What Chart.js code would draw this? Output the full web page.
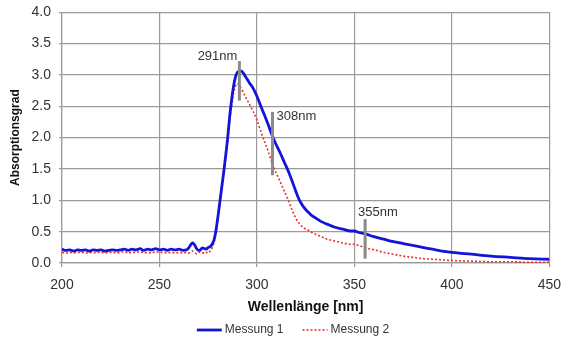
<!DOCTYPE html>
<html>
<head>
<meta charset="utf-8">
<script src="https://cdn.jsdelivr.net/npm/chart.js@4.4.1/dist/chart.umd.min.js"></script>
<style>
html,body{margin:0;padding:0;background:#fff;}
#wrap{width:562px;height:340px;}
</style>
</head>
<body>
<div id="wrap"><canvas id="c" width="562" height="340"></canvas></div>
<script>
const wavelengths = [
  200,202,204,206,208,210,212,214,216,218,220,222,224,226,228,230,232,234,236,238,240,242,244,246,248,250,252,254,256,258,260,262,264,
  265,266,267,268,269,270,271,272,273,274,275,276,277,278,279,280,281,282,283,284,285,286,287,288,289,290,291,292,293,294,295,296,
  298,300,302,304,306,308,310,312,314,316,318,320,322,324,326,328,330,
  333,336,340,344,348,350,352,356,360,365,370,375,380,385,390,395,400,410,420,430,440,450
];
const messung1 = [
  0.22,0.20,0.21,0.19,0.21,0.20,0.21,0.19,0.21,0.20,0.21,0.19,0.20,0.21,0.20,0.21,0.22,0.20,0.22,0.21,0.23,0.20,0.22,0.21,0.23,0.21,0.22,0.20,0.22,0.21,0.22,0.20,0.21,
  0.24,0.29,0.32,0.29,0.23,0.20,0.21,0.24,0.23,0.22,0.25,0.26,0.30,0.37,0.52,0.74,0.98,1.22,1.46,1.72,2.00,2.33,2.60,2.82,2.97,3.04,3.06,3.06,3.03,2.98,2.93,2.88,
  2.79,2.66,2.50,2.35,2.19,2.02,1.88,1.75,1.61,1.47,1.31,1.14,0.99,0.89,0.82,0.76,0.72,
  0.66,0.62,0.57,0.54,0.51,0.51,0.49,0.46,0.42,0.38,0.34,0.31,0.28,0.25,0.22,0.19,0.17,0.14,0.11,0.09,0.07,0.06
];
const messung2 = [
  0.17,0.16,0.17,0.16,0.17,0.17,0.16,0.17,0.16,0.17,0.17,0.16,0.17,0.17,0.16,0.17,0.18,0.16,0.17,0.17,0.18,0.16,0.17,0.16,0.18,0.17,0.17,0.16,0.17,0.16,0.17,0.16,0.17,
  0.16,0.18,0.19,0.17,0.15,0.16,0.18,0.17,0.15,0.17,0.16,0.19,0.24,0.33,0.50,0.72,0.96,1.20,1.44,1.68,1.95,2.25,2.50,2.70,2.82,2.86,2.83,2.78,2.72,2.66,2.60,2.54,
  2.42,2.28,2.10,1.93,1.76,1.57,1.43,1.29,1.15,1.01,0.85,0.71,0.62,0.56,0.53,0.49,0.46,
  0.42,0.38,0.35,0.32,0.30,0.30,0.28,0.24,0.21,0.17,0.14,0.11,0.09,0.07,0.06,0.05,0.04,0.03,0.02,0.02,0.01,0.01
];
const seriesNames = ['Messung 1', 'Messung 2'];
const xTickValues = [200, 250, 300, 350, 400, 450];
const yTickValues = [0, 0.5, 1, 1.5, 2, 2.5, 3, 3.5, 4];
const markerWavelengths = [291, 308, 355.5];
const markerTop = [3.22, 2.41, 0.70];
const markerBottom = [2.59, 1.40, 0.07];
const markerLabels = ['291nm', '308nm', '355nm'];
const markerLabelY = [3.30, 2.34, 0.80];

const FONT = '"Liberation Sans", Arial, sans-serif';
const toXY = (xs, ys) => xs.map((x, i) => ({x: x, y: ys[i]}));

const markerPlugin = {
  id: 'markers',
  afterDatasetsDraw(chart) {
    const {ctx, scales} = chart;
    const xs = scales.x, ys = scales.y;
    ctx.save();
    ctx.strokeStyle = '#8a8a8a';
    ctx.lineWidth = 3;
    markerWavelengths.forEach((w, i) => {
      const px = xs.getPixelForValue(w);
      ctx.beginPath();
      ctx.moveTo(px, ys.getPixelForValue(markerTop[i]));
      ctx.lineTo(px, ys.getPixelForValue(markerBottom[i]));
      ctx.stroke();
    });
    ctx.font = '13px ' + FONT;
    ctx.fillStyle = '#333';
    ctx.textBaseline = 'middle';
    markerWavelengths.forEach((w, i) => {
      const px = xs.getPixelForValue(w);
      const py = ys.getPixelForValue(markerLabelY[i]);
      if (i === 0) { ctx.textAlign = 'right'; ctx.fillText(markerLabels[i], px - 2, py); }
      else if (i === 1) { ctx.textAlign = 'left'; ctx.fillText(markerLabels[i], px + 4, py); }
      else { ctx.textAlign = 'left'; ctx.fillText(markerLabels[i], px - 7, py); }
    });
    ctx.restore();
  }
};

const legendPlugin = {
  id: 'bottomLegend',
  afterDraw(chart) {
    const ctx = chart.ctx;
    const ds = chart.data.datasets;
    ctx.save();
    ctx.font = '12px ' + FONT;
    const sampleW = 25, gapText = 3, gapItem = 19;
    const widths = ds.map(d => ctx.measureText(d.label).width);
    let total = 0;
    widths.forEach((w, i) => { total += sampleW + gapText + w + (i < ds.length - 1 ? gapItem : 0); });
    let x = 293 - total / 2;
    const y = 330;
    ds.forEach((d, i) => {
      ctx.beginPath();
      ctx.strokeStyle = d.borderColor;
      ctx.lineWidth = d.borderWidth;
      ctx.setLineDash(d.borderDash || []);
      ctx.moveTo(x, y);
      ctx.lineTo(x + sampleW, y);
      ctx.stroke();
      ctx.setLineDash([]);
      x += sampleW + gapText;
      ctx.fillStyle = '#333';
      ctx.textAlign = 'left';
      ctx.textBaseline = 'middle';
      ctx.fillText(d.label, x, y);
      x += widths[i] + gapItem;
    });
    ctx.restore();
  }
};

new Chart(document.getElementById('c'), {
  type: 'line',
  data: {
    datasets: [
      {label: seriesNames[0], data: toXY(wavelengths, messung1), borderColor: '#1414d8', backgroundColor: '#1414d8', borderWidth: 2.8, pointRadius: 0, cubicInterpolationMode: 'monotone'},
      {label: seriesNames[1], data: toXY(wavelengths, messung2), borderColor: '#e8302c', backgroundColor: '#e8302c', borderWidth: 1.6, borderDash: [2, 2], pointRadius: 0, cubicInterpolationMode: 'monotone'}
    ]
  },
  options: {
    responsive: false,
    animation: false,
    layout: {padding: {left: 0, right: 0, top: 12, bottom: 24}},
    plugins: {
      legend: {display: false},
      tooltip: {enabled: false}
    },
    scales: {
      x: {
        type: 'linear', min: 200, max: 450,
        afterBuildTicks: (s) => { s.ticks = xTickValues.map(v => ({value: v})); },
        afterFit: (s) => { s.height = 53; },
        grid: {color: '#9a9a9a', lineWidth: 1.2, tickLength: 4},
        border: {color: '#9a9a9a', width: 1.2},
        ticks: {color: '#333', padding: 1, maxRotation: 0, font: {family: FONT, size: 14, lineHeight: 2.4}},
        title: {display: true, text: 'Wellenlänge [nm]', color: '#111', padding: 0, font: {family: FONT, size: 14, weight: 'bold'}}
      },
      y: {
        type: 'linear', min: 0, max: 4,
        afterBuildTicks: (s) => { s.ticks = yTickValues.map(v => ({value: v})); },
        afterFit: (s) => { s.width = 62; },
        grid: {color: '#9a9a9a', lineWidth: 1.2, tickLength: 3},
        border: {color: '#9a9a9a', width: 1.2},
        ticks: {color: '#333', padding: 8, callback: (v) => Number(v).toFixed(1), font: {family: FONT, size: 14, lineHeight: 0.6}},
        title: {display: true, text: 'Absorptionsgrad', color: '#111', padding: {top: 8, bottom: 0}, font: {family: FONT, size: 12, weight: 'bold'}}
      }
    }
  },
  plugins: [markerPlugin, legendPlugin]
});
</script>
</body>
</html>
